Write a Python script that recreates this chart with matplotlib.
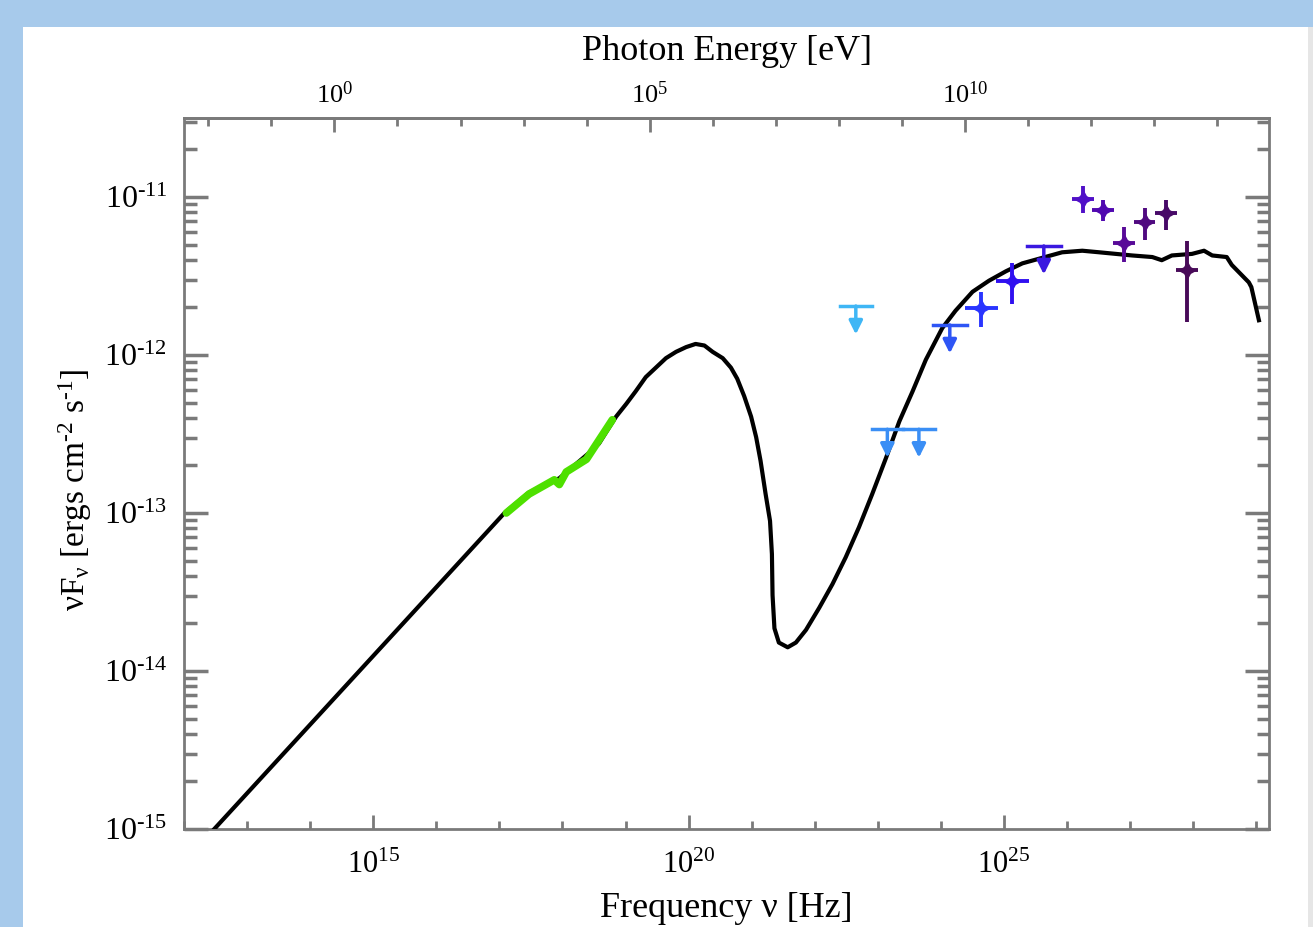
import numpy as np
import matplotlib
matplotlib.use('Agg')
import matplotlib.pyplot as plt
from matplotlib.patches import Rectangle
from matplotlib.ticker import FixedLocator, FuncFormatter, NullFormatter, LogLocator

plt.rcParams['font.family'] = ['Liberation Serif', 'DejaVu Serif']
plt.rcParams['mathtext.fontset'] = 'custom'
plt.rcParams['mathtext.rm'] = 'Liberation Serif'
plt.rcParams['mathtext.it'] = 'Liberation Serif:italic'

# model SED (log10 nu [Hz], log10 nuFnu)
model_logx = [12.48, 17.08, 17.47, 17.95, 18.42, 18.58, 18.69, 18.85, 19.01, 19.16,
              19.32, 19.48, 19.64, 19.80, 19.96, 20.11, 20.25, 20.38, 20.54, 20.67,
              20.77, 20.88, 20.99, 21.07, 21.14, 21.22, 21.29, 21.32, 21.33, 21.36,
              21.43, 21.57, 21.70, 21.86, 22.07, 22.28, 22.49, 22.70, 22.91, 23.13,
              23.34, 23.55, 23.76, 24.02, 24.23, 24.50, 24.76, 25.03, 25.29, 25.56,
              25.92, 26.24, 26.51, 27.03, 27.35, 27.50, 27.66, 27.98, 28.17, 28.30,
              28.53, 28.61, 28.88, 28.92, 29.04]
model_logy = [-15.00, -13.00, -12.87, -12.78, -12.62, -12.56, -12.49, -12.39, -12.31, -12.23,
              -12.14, -12.08, -12.02, -11.98, -11.95, -11.93, -11.94, -11.98, -12.02, -12.08,
              -12.15, -12.26, -12.39, -12.52, -12.67, -12.88, -13.05, -13.26, -13.52, -13.73,
              -13.82, -13.85, -13.82, -13.74, -13.60, -13.45, -13.28, -13.09, -12.88, -12.65,
              -12.42, -12.23, -12.03, -11.83, -11.72, -11.60, -11.53, -11.47, -11.42, -11.39,
              -11.35, -11.34, -11.35, -11.37, -11.38, -11.40, -11.37, -11.36, -11.34, -11.37,
              -11.38, -11.43, -11.54, -11.57, -11.78]

# X-ray spectrum (green)
xray_logx = [17.11, 17.47, 17.87, 17.95, 18.06, 18.38, 18.79]
xray_logy = [-13.00, -12.88, -12.79, -12.82, -12.74, -12.66, -12.41]

# upper limits
ul_logx = [22.65, 23.15, 23.65, 24.14, 25.63]
ul_logy = [-11.69, -12.47, -12.47, -11.81, -11.31]
ul_xerr = [0.25, 0.25, 0.25, 0.27, 0.27]
ul_colors = ['#3fb6f5', '#3a8ef5', '#3a8ef5', '#2e55f5', '#3a18e0']

# detections
pt_logx = [24.64, 25.13, 26.25, 26.57, 26.90, 27.23, 27.57, 27.90]
pt_logy = [-11.70, -11.53, -11.01, -11.08, -11.29, -11.16, -11.10, -11.46]
pt_yup = [0.10, 0.115, 0.08, 0.06, 0.10, 0.09, 0.08, 0.18]
pt_ydn = [0.12, 0.145, 0.09, 0.07, 0.12, 0.11, 0.11, 0.33]
pt_xerr = [0.26, 0.26, 0.17, 0.17, 0.18, 0.17, 0.17, 0.17]
pt_colors = ['#2a35ff', '#3010f0', '#5010c8', '#5008b0', '#580a98', '#500a80', '#480a68', '#480a58']

h_ev = 4.1357e-15
HY = '\u2010'  # short hyphen for exponents


def pow_label(v, p):
    return '$10^{%s}$' % str(int(round(np.log10(v)))).replace('-', HY)


fig = plt.figure(figsize=(13.13, 9.27), dpi=100)
fig.patch.set_facecolor('#a7caeb')
fig.add_artist(Rectangle((23 / 1313, 0), (1308 - 23) / 1313, 1 - 27 / 927,
                         transform=fig.transFigure, facecolor='white', edgecolor='none', zorder=-10))
fig.add_artist(Rectangle((1308 / 1313, 0), 5 / 1313, 1 - 27 / 927,
                         transform=fig.transFigure, facecolor='#e6e6e6', edgecolor='none', zorder=-10))

ax = fig.add_axes([184 / 1313, 1 - 829 / 927, (1269 - 184) / 1313, (829 - 118) / 927])
ax.set_xscale('log')
ax.set_yscale('log')
ax.set_xlim(1e12, 10 ** 29.2)
ax.set_ylim(1e-15, 10 ** -10.5)

ax.plot(10 ** np.array(model_logx), 10 ** np.array(model_logy), color='black', lw=3,
        solid_joinstyle='round', zorder=3)
ax.plot(10 ** np.array(xray_logx), 10 ** np.array(xray_logy), color='#4ee000', lw=5.5,
        solid_capstyle='round', solid_joinstyle='round', zorder=4)

for lx, ly, xe, c in zip(ul_logx, ul_logy, ul_xerr, ul_colors):
    x = 10 ** lx
    y = 10 ** ly
    ax.plot([10 ** (lx - xe), 10 ** (lx + xe)], [y, y], color=c, lw=2.5, zorder=5)
    ax.annotate('', xy=(x, 10 ** (ly - 0.18)), xytext=(x, y),
                arrowprops=dict(arrowstyle='-|>', color=c, lw=2.5, mutation_scale=20,
                                shrinkA=0, shrinkB=0), zorder=5)

# detections: 4-point star marker with error crosses
for lx, ly, yu, yd, xe, c in zip(pt_logx, pt_logy, pt_yup, pt_ydn, pt_xerr, pt_colors):
    x = 10 ** lx
    y = 10 ** ly
    ax.errorbar([x], [y],
                xerr=[[x - 10 ** (lx - xe)], [10 ** (lx + xe) - x]],
                yerr=[[y - 10 ** (ly - yd)], [10 ** (ly + yu) - y]],
                fmt='none', ecolor=c, elinewidth=2.8, capsize=0, zorder=6)
    ax.plot([x], [y], marker=(4, 1, 0), ms=14, color=c, mew=0, zorder=7)

# ticks
spine_c = '#7a7a7a'
for s in ax.spines.values():
    s.set_color(spine_c)
    s.set_linewidth(2)

ax.xaxis.set_major_locator(FixedLocator([1e15, 1e20, 1e25]))
ax.xaxis.set_minor_locator(FixedLocator([10.0 ** k for k in range(12, 30)]))
ax.xaxis.set_major_formatter(FuncFormatter(pow_label))
ax.xaxis.set_minor_formatter(NullFormatter())
ax.yaxis.set_major_locator(FixedLocator([10.0 ** k for k in range(-15, -10)]))
ax.yaxis.set_minor_locator(LogLocator(base=10, subs=np.arange(2, 10), numticks=20))
ax.yaxis.set_major_formatter(FuncFormatter(pow_label))
ax.yaxis.set_minor_formatter(NullFormatter())

ax.tick_params(axis='x', which='both', direction='in', top=False, bottom=True,
               colors=spine_c, labelcolor='black', labelsize=22, pad=16)
ax.tick_params(axis='x', which='major', length=10, width=2)
ax.tick_params(axis='x', which='minor', length=6, width=2)
ax.tick_params(axis='y', which='both', direction='in', left=True, right=True,
               colors=spine_c, labelcolor='black', labelsize=23, pad=12)
ax.tick_params(axis='y', which='major', length=17, width=2.5)
ax.tick_params(axis='y', which='minor', length=9, width=2.5)

ax.set_xlabel('Frequency ν [Hz]', fontsize=26, labelpad=8)
ax.set_ylabel('$\\mathrm{νF_{ν}}$ [ergs cm$^{' + HY + '2}$ s$^{' + HY + '1}$]', fontsize=24)
ax.yaxis.set_label_coords(-0.083, 0.477)

top = ax.secondary_xaxis('top', functions=(lambda x: x * h_ev, lambda e: e / h_ev))
top.set_xscale('log')
top.xaxis.set_major_locator(FixedLocator([1e0, 1e5, 1e10]))
top.xaxis.set_minor_locator(FixedLocator([10.0 ** k for k in range(-2, 15)]))
top.xaxis.set_major_formatter(FuncFormatter(pow_label))
top.xaxis.set_minor_formatter(NullFormatter())
top.tick_params(axis='x', which='both', direction='in', colors=spine_c, labelcolor='black',
                labelsize=19, pad=7)
top.tick_params(axis='x', which='major', length=10, width=2)
top.tick_params(axis='x', which='minor', length=6, width=2)
top.spines['top'].set_color(spine_c)
top.spines['top'].set_linewidth(2)
top.set_xlabel('Photon Energy [eV]', fontsize=26, labelpad=16)

fig.savefig('out.png', dpi=100, facecolor=fig.get_facecolor())
